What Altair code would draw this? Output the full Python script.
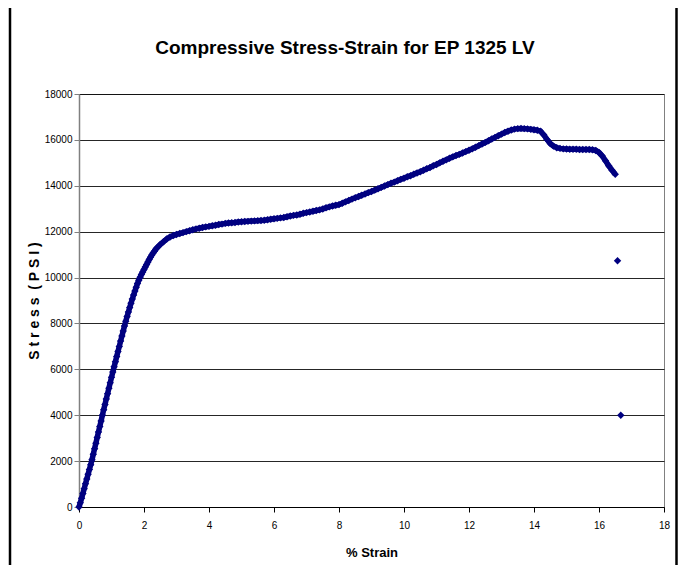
import altair as alt
import pandas as pd

# ---- data ----
strain = [
    0.00, 0.04, 0.08, 0.12, 0.16, 0.20, 0.24, 0.28, 0.32, 0.36,
    0.40, 0.44, 0.48, 0.52, 0.56, 0.60, 0.64, 0.68, 0.72, 0.76,
    0.80, 0.84, 0.88, 0.92, 0.96, 1.00, 1.04, 1.08, 1.12, 1.16,
    1.20, 1.24, 1.28, 1.32, 1.36, 1.40, 1.44, 1.48, 1.52, 1.56,
    1.60, 1.64, 1.68, 1.72, 1.76, 1.80, 1.84, 1.88, 1.92, 1.96,
    2.00, 2.04, 2.08, 2.12, 2.16, 2.20, 2.24, 2.28, 2.32, 2.36,
    2.40, 2.5, 2.6, 2.7, 2.8, 2.9, 3.0, 3.1, 3.2, 3.3,
    3.4, 3.5, 3.6, 3.7, 3.8, 3.9, 4.0, 4.1, 4.2, 4.3,
    4.4, 4.5, 4.6, 4.7, 4.8, 4.9, 5.0, 5.1, 5.2, 5.3,
    5.4, 5.5, 5.6, 5.7, 5.8, 5.9, 6.0, 6.1, 6.2, 6.3,
    6.4, 6.5, 6.6, 6.7, 6.8, 6.9, 7.0, 7.1, 7.2, 7.3,
    7.4, 7.5, 7.6, 7.7, 7.8, 7.9, 8.0, 8.1, 8.2, 8.3,
    8.4, 8.5, 8.6, 8.7, 8.8, 8.9, 9.0, 9.1, 9.2, 9.3,
    9.4, 9.5, 9.6, 9.7, 9.8, 9.9, 10.0, 10.1, 10.2, 10.3,
    10.4, 10.5, 10.6, 10.7, 10.8, 10.9, 11.0, 11.1, 11.2, 11.3,
    11.4, 11.5, 11.6, 11.7, 11.8, 11.9, 12.0, 12.1, 12.2, 12.3,
    12.4, 12.5, 12.6, 12.7, 12.8, 12.9, 13.0, 13.1, 13.2, 13.3,
    13.4, 13.5, 13.6, 13.7, 13.8, 13.9, 14.0, 14.1, 14.2, 14.3,
    14.4, 14.5, 14.6, 14.7, 14.8, 14.9, 15.0, 15.1, 15.2, 15.3,
    15.4, 15.5, 15.6, 15.7, 15.8, 15.9, 16.0, 16.1, 16.2, 16.3,
    16.4, 16.5,
]
stress = [
    0, 180, 380, 590, 800, 1010, 1220, 1430, 1630, 1840,
    2060, 2300, 2540, 2780, 3030, 3270, 3510, 3750, 4000, 4240,
    4470, 4710, 4940, 5180, 5410, 5650, 5880, 6110, 6330, 6560,
    6780, 7000, 7230, 7450, 7670, 7890, 8100, 8300, 8500, 8690,
    8880, 9060, 9240, 9410, 9580, 9740, 9880, 10010, 10130, 10240,
    10350, 10460, 10570, 10680, 10790, 10890, 10980, 11070, 11150, 11230,
    11300, 11440, 11560, 11680, 11770, 11830, 11880, 11920, 11960, 12000,
    12040, 12080, 12120, 12150, 12180, 12210, 12230, 12260, 12280, 12310,
    12330, 12360, 12380, 12390, 12400, 12420, 12430, 12440, 12450, 12460,
    12470, 12480, 12490, 12500, 12520, 12540, 12560, 12580, 12600, 12620,
    12650, 12680, 12710, 12730, 12760, 12800, 12830, 12860, 12890, 12920,
    12950, 12990, 13040, 13080, 13120, 13150, 13180, 13240, 13300, 13360,
    13420, 13480, 13530, 13590, 13640, 13700, 13750, 13810, 13870, 13930,
    13990, 14050, 14110, 14160, 14220, 14280, 14330, 14390, 14440, 14500,
    14560, 14610, 14680, 14740, 14800, 14870, 14930, 15000, 15070, 15130,
    15200, 15260, 15320, 15370, 15430, 15490, 15550, 15610, 15680, 15750,
    15820, 15890, 15960, 16040, 16110, 16180, 16250, 16320, 16380, 16430,
    16470, 16490, 16500, 16490, 16480, 16460, 16440, 16420, 16380, 16220,
    16020, 15840, 15730, 15660, 15630, 15610, 15600, 15590, 15590, 15590,
    15580, 15580, 15580, 15580, 15570, 15540, 15450, 15300, 15090, 14870,
    14680, 14500,
]
# two last readings that drop off the curve
tail_strain = [16.57, 16.67]
tail_stress = [10730, 4000]

x_ticks = [0, 2, 4, 6, 8, 10, 12, 14, 16, 18]
y_ticks = [0, 2000, 4000, 6000, 8000, 10000, 12000, 14000, 16000, 18000]

TITLE = "Compressive Stress-Strain for EP 1325 LV"
X_TITLE = "% Strain"
NB = "\u00a0"
Y_TITLE = NB.join("Stress") + NB + NB + NB.join("(PSI)")

FONT = "Liberation Sans, Arial, sans-serif"
NAVY = "#000080"

curve_df = pd.DataFrame({"strain": strain, "stress": stress, "order": list(range(len(strain)))})
all_df = pd.DataFrame({"strain": strain + tail_strain, "stress": stress + tail_stress})

x_enc = alt.X(
    "strain:Q",
    scale=alt.Scale(domain=[0, 18], nice=False, zero=False),
    axis=alt.Axis(
        values=x_ticks, grid=False, title=X_TITLE, format="d",
        titleFont=FONT, titleFontSize=13, titleFontWeight="bold", titleColor="black",
        titlePadding=16,
        labelFont=FONT, labelFontSize=10, labelColor="black", labelPadding=8,
        tickSize=5, tickColor="black", domainColor="black", domainWidth=1,
        labelFlush=False,
    ),
)
y_enc = alt.Y(
    "stress:Q",
    scale=alt.Scale(domain=[0, 18000], nice=False),
    axis=alt.Axis(
        values=y_ticks, grid=True, gridColor="black", gridWidth=1, gridOpacity=0.85,
        title=Y_TITLE, format="d",
        titleFont=FONT, titleFontSize=14, titleFontWeight="bold", titleColor="black",
        titlePadding=3,
        labelFont=FONT, labelFontSize=10, labelColor="black", labelPadding=2,
        tickSize=5, tickColor="#808080", domainColor="#808080", domainWidth=1.5,
        labelFlush=False,
    ),
)

band = alt.Chart(curve_df).mark_line(color=NAVY, strokeWidth=5.5).encode(
    x=x_enc, y=y_enc, order="order:Q"
)

points = alt.Chart(all_df).mark_point(
    shape="diamond", filled=True, size=55, color=NAVY, opacity=1
).encode(x="strain:Q", y="stress:Q")

title_df = pd.DataFrame({"t": [TITLE]})
title = alt.Chart(title_df).mark_text(
    font=FONT, fontSize=19, fontWeight="bold", align="center",
    baseline="alphabetic", color="black"
).encode(x=alt.value(266), y=alt.value(-40), text="t:N")

frame_df = pd.DataFrame({"k": [0]})
left_border = alt.Chart(frame_df).mark_rule(color="black", strokeWidth=2.5).encode(
    x=alt.value(-69), y=alt.value(-100), y2=alt.value(480)
)
right_border = alt.Chart(frame_df).mark_rule(color="black", strokeWidth=2.5).encode(
    x=alt.value(597.5), y=alt.value(-100), y2=alt.value(480)
)

chart = alt.layer(band, points, title, left_border, right_border).properties(
    width=585,
    height=413,
    padding={"left": 71, "top": 86, "right": 14, "bottom": 58},
    autosize=alt.AutoSizeParams(type="none"),
).configure_view(stroke="#808080", strokeWidth=1)

chart.save("out.html", embed_options={"renderer": "svg", "actions": False})
